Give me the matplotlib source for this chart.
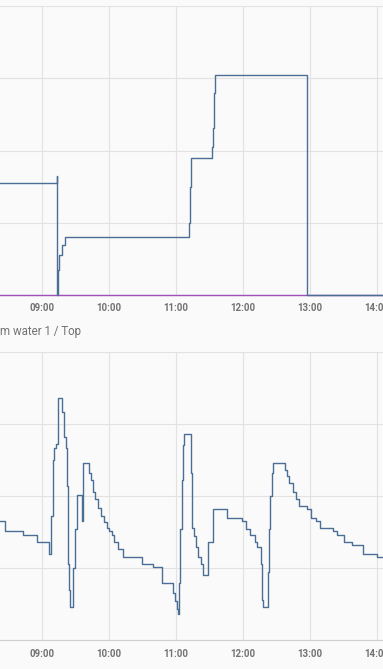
import pandas as pd
import matplotlib
matplotlib.use("Agg")
import matplotlib.pyplot as plt

# window shown (start / end of the visible range)
view_start = "08:22:42"
view_end = "14:05:22"

# top chart: step series (blue) and a flat series (purple)
top_times = ["08:22:42", "09:13:26", "09:13:59", "09:14:35", "09:15:43",
             "09:18:11", "09:20:35", "11:11:31", "11:12:40", "11:13:19",
             "11:32:20", "11:33:14", "11:34:08", "11:35:17", "12:57:36",
             "14:05:22"]
top_values = [155, 165, 0, 35, 55, 69, 80, 100, 150, 190, 205, 231, 280,
              305, 0, 0]
purple_times = ["08:22:42", "14:05:22"]
purple_values = [0, 0]

# bottom chart: "... water 1 / Top"
bottom_times = ["08:22:42", "08:26:54", "08:29:18", "08:43:00", "08:55:30",
                "09:06:18", "09:08:06", "09:08:54", "09:09:48", "09:11:18",
                "09:12:48", "09:14:18", "09:17:54", "09:20:18", "09:21:30",
                "09:23:00", "09:23:54", "09:24:48", "09:25:18", "09:28:18",
                "09:30:06", "09:31:36", "09:35:48", "09:37:00", "09:42:36",
                "09:44:06", "09:45:36", "09:47:42", "09:50:06", "09:53:06",
                "09:56:00", "09:58:06", "10:00:30", "10:02:36", "10:05:00",
                "10:08:36", "10:13:06", "10:30:06", "10:39:18", "10:47:42",
                "10:57:48", "10:59:18", "11:00:48", "11:02:00", "11:02:54",
                "11:04:06", "11:05:12", "11:06:24", "11:07:36", "11:13:18",
                "11:14:48", "11:16:18", "11:18:06", "11:20:12", "11:22:12",
                "11:24:36", "11:28:48", "11:33:18", "11:45:48", "11:58:54",
                "12:03:00", "12:06:06", "12:11:06", "12:12:36", "12:16:30",
                "12:17:24", "12:18:18", "12:22:12", "12:23:24", "12:24:36",
                "12:25:48", "12:26:42", "12:38:00", "12:39:48", "12:41:36",
                "12:45:06", "12:47:30", "12:49:54", "12:57:06", "13:00:54",
                "13:05:42", "13:09:18", "13:20:54", "13:24:30", "13:30:48",
                "13:37:36", "13:47:12", "13:59:42", "14:05:22"]
bottom_values = [48.3, 47.6, 47.6, 47.3, 46.8,
                 46.0, 48.6, 48.6, 52.5, 53.3,
                 53.6, 56.8, 55.8, 54.1, 53.3,
                 50.7, 45.3, 43.5, 42.3, 45.0,
                 47.7, 50.1, 48.3, 52.3, 51.6,
                 51.1, 50.3, 49.8, 49.2, 48.6,
                 48.2, 47.8, 47.6, 47.3, 46.8,
                 46.3, 45.8, 45.3, 45.1, 44.0,
                 43.3, 42.7, 42.2, 41.8, 44.0,
                 47.7, 51.1, 53.5, 54.3, 51.6,
                 47.8, 47.2, 46.5, 45.8, 45.3,
                 44.5, 46.8, 49.1, 48.5, 48.3,
                 47.7, 47.3, 46.8, 46.5, 45.3,
                 42.8, 42.3, 44.7, 47.7, 50.0,
                 51.6, 52.3, 51.8, 51.4, 50.9,
                 50.3, 49.8, 49.3, 49.1, 48.5,
                 48.3, 47.8, 47.6, 47.3, 46.8,
                 46.6, 46.0, 45.8, 45.8]

tick_hours = [9, 10, 11, 12, 13, 14]
tick_labels = ["09:00", "10:00", "11:00", "12:00", "13:00", "14:00"]


def to_hours(times):
    return pd.to_timedelta(times).total_seconds() / 3600.0


plt.rcParams['font.family'] = ['Roboto', 'DejaVu Sans']

BG = '#fafafa'
GRID = '#e2e2e2'
BLUE = '#4a6e96'
PURPLE = '#a050b8'
TEXT = '#727272'

W, H = 383, 669
fig = plt.figure(figsize=(W / 100, H / 100), dpi=100, facecolor=BG)

x0, x1 = to_hours([view_start, view_end])


def style_axes(ax, ymin, ymax, ystep):
    ax.set_facecolor(BG)
    ax.set_xlim(x0, x1)
    ax.set_ylim(ymin, ymax)
    ax.set_yticks([ymin + i * ystep for i in range(int((ymax - ymin) / ystep) + 1)])
    ax.set_yticklabels([])
    ax.set_xticks(tick_hours)
    ax.set_xticklabels(tick_labels, fontsize=7, color=TEXT, fontweight='bold')
    ax.tick_params(axis='x', length=0, pad=6)
    ax.tick_params(axis='y', length=0)
    ax.grid(True, color=GRID, linewidth=0.8)
    ax.set_axisbelow(True)
    for side in ['top', 'left', 'right']:
        ax.spines[side].set_visible(False)
    ax.spines['bottom'].set_color('#cfcfcf')
    ax.spines['bottom'].set_linewidth(0.8)


# top panel: y=6 .. 295 px
ax1 = fig.add_axes([0, 1 - 295 / H, 1, 289 / H])
style_axes(ax1, 0, 400, 100)
ax1.step(to_hours(purple_times), purple_values, where='post',
         color=PURPLE, linewidth=1.0, clip_on=False, zorder=3)
ax1.step(to_hours(top_times), top_values, where='post',
         color=BLUE, linewidth=1.0, clip_on=False, zorder=4)

# card title of the lower chart
fig.text(0, 1 - 332 / H, "m water 1 / Top", fontsize=8.3, color=TEXT,
         ha='left', va='center')

# bottom panel: y=351.7 .. 640.3 px
ax2 = fig.add_axes([0, 1 - 640.3 / H, 1, 288.6 / H])
style_axes(ax2, 40, 60, 5)
ax2.step(to_hours(bottom_times), bottom_values, where='post',
         color=BLUE, linewidth=1.0, zorder=4)

fig.savefig("out.png", dpi=100, facecolor=BG)
